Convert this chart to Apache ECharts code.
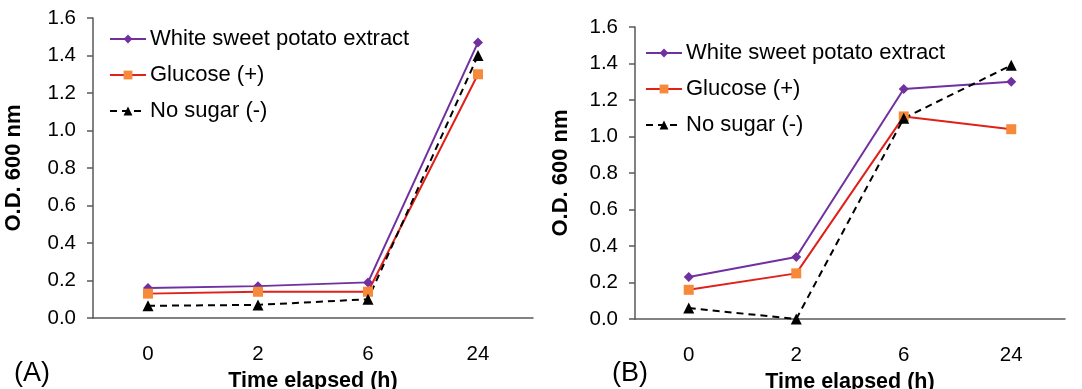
<!DOCTYPE html>
<html>
<head>
<meta charset="utf-8">
<script src="https://cdn.jsdelivr.net/npm/echarts@6/dist/echarts.min.js"></script>
<style>
  html, body { margin: 0; padding: 0; background: #fff; }
</style>
</head>
<body>
<div id="chart_con" style="width:1082px;height:389px;"></div>
<script>
// time points (h)
const times = ['0', '2', '6', '24'];
const seriesNames = ['White sweet potato extract', 'Glucose (+)', 'No sugar (-)'];

// panel A
const potatoA = [0.16, 0.17, 0.19, 1.47];
const glucoseA = [0.13, 0.14, 0.14, 1.30];
const noSugarA = [0.065, 0.07, 0.10, 1.40];

// panel B
const potatoB = [0.23, 0.34, 1.26, 1.30];
const glucoseB = [0.16, 0.25, 1.11, 1.04];
const noSugarB = [0.06, 0.0, 1.10, 1.39];

const font = '"Liberation Sans", Arial, sans-serif';
const axisColor = '#595959';

function xAxisFor(gridIndex) {
    return {
        type: 'category',
        gridIndex: gridIndex,
        data: times,
        name: 'Time elapsed (h)',
        nameLocation: 'middle',
        nameGap: 51,
        nameTextStyle: { fontFamily: font, fontSize: 21.5, fontWeight: 'bold', color: '#000' },
        axisLine: { lineStyle: { color: axisColor, width: 1.5 } },
        axisTick: { length: 6, lineStyle: { color: axisColor, width: 1.5 } },
        axisLabel: { margin: 26, fontFamily: font, fontSize: 20.5, color: '#000' },
        splitLine: { show: false }
    };
}

function yAxisFor(gridIndex, gap) {
    return {
        type: 'value',
        gridIndex: gridIndex,
        min: 0,
        max: 1.6,
        interval: 0.2,
        name: 'O.D. 600 nm',
        nameLocation: 'middle',
        nameGap: gap,
        nameTextStyle: { fontFamily: font, fontSize: 22, fontWeight: 'bold', color: '#000' },
        axisLine: { show: true, lineStyle: { color: axisColor, width: 1.5 } },
        axisTick: { show: true, length: 6, lineStyle: { color: axisColor, width: 1.5 } },
        axisLabel: {
            margin: 17,
            fontFamily: font,
            fontSize: 20.5,
            color: '#000',
            formatter: function (v) { return v.toFixed(1); }
        },
        splitLine: { show: false }
    };
}

function seriesFor(idx, potato, glucose, noSugar) {
    return [
        {
            name: seriesNames[0], type: 'line', xAxisIndex: idx, yAxisIndex: idx,
            data: potato, symbol: 'diamond', symbolSize: 10, showSymbol: true,
            itemStyle: { color: '#7030A0' },
            lineStyle: { color: '#7030A0', width: 2 }
        },
        {
            name: seriesNames[1], type: 'line', xAxisIndex: idx, yAxisIndex: idx,
            data: glucose, symbol: 'rect', symbolSize: 10,
            itemStyle: { color: '#F68A3A' },
            lineStyle: { color: '#E0201B', width: 2 }
        },
        {
            name: seriesNames[2], type: 'line', xAxisIndex: idx, yAxisIndex: idx,
            data: noSugar, symbol: 'triangle', symbolSize: 11,
            itemStyle: { color: '#000' },
            lineStyle: { color: '#000', width: 2, type: [7, 5] }
        }
    ];
}

function legendFor(left, top) {
    return {
        data: seriesNames,
        orient: 'vertical',
        left: left,
        top: top,
        padding: 0,
        itemWidth: 36,
        itemHeight: 11,
        itemGap: 14,
        selectedMode: false,
        textStyle: { fontFamily: font, fontSize: 22, color: '#000', padding: [0, 0, 0, -1] }
    };
}

const option = {
    animation: false,
    backgroundColor: '#fff',
    grid: [
        { left: 93, top: 18, width: 440, height: 300, containLabel: false, outerBoundsMode: 'none' },
        { left: 635, top: 27, width: 430, height: 292, containLabel: false, outerBoundsMode: 'none' }
    ],
    xAxis: [xAxisFor(0), xAxisFor(1)],
    yAxis: [yAxisFor(0, 68), yAxisFor(1, 63)],
    legend: [legendFor(109, 28), legendFor(645, 42)],
    series: seriesFor(0, potatoA, glucoseA, noSugarA)
        .concat(seriesFor(1, potatoB, glucoseB, noSugarB)),
    graphic: [
        { type: 'text', left: 14, top: 360, style: { text: '(A)', font: '27px ' + font, fill: '#000' } },
        { type: 'text', left: 612, top: 360, style: { text: '(B)', font: '27px ' + font, fill: '#000' } }
    ]
};

const chart = echarts.init(document.getElementById('chart_con'));
chart.setOption(option);
window.addEventListener('resize', function () {
    chart.resize();
});
</script>
</body>
</html>
